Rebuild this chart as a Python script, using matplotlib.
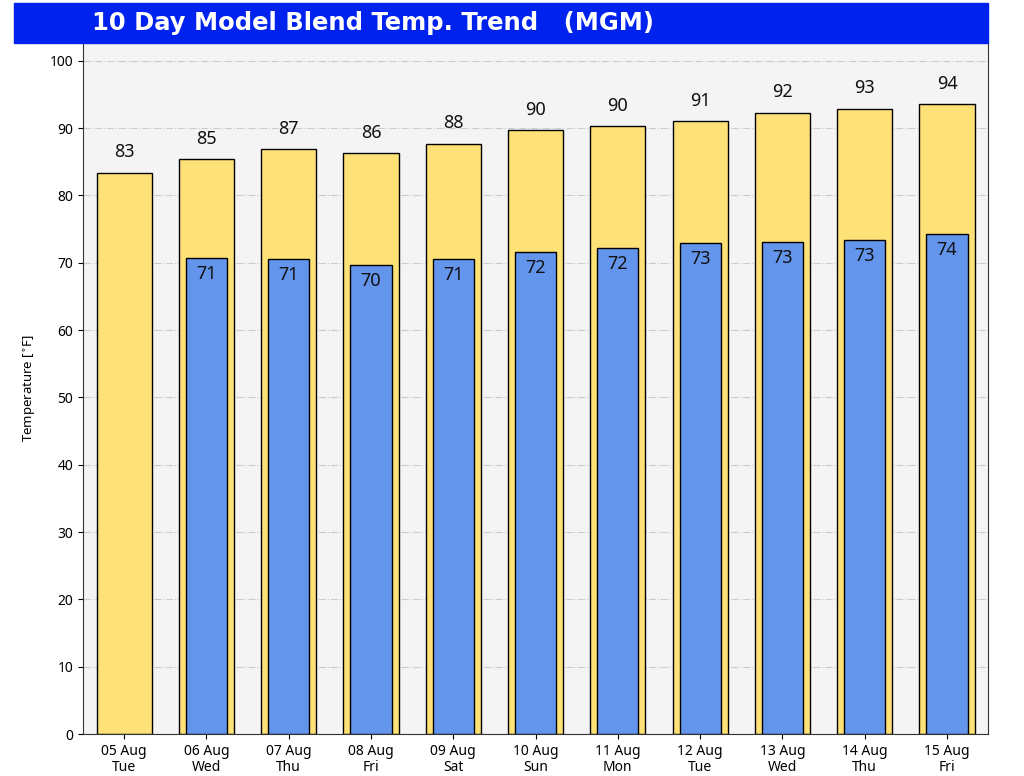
import matplotlib

matplotlib.use("Agg")
import matplotlib.pyplot as plt
from matplotlib.patches import Rectangle

DATES = ["05 Aug", "06 Aug", "07 Aug", "08 Aug", "09 Aug", "10 Aug",
         "11 Aug", "12 Aug", "13 Aug", "14 Aug", "15 Aug"]
DAYS = ["Tue", "Wed", "Thu", "Fri", "Sat", "Sun", "Mon", "Tue", "Wed", "Thu", "Fri"]
HIGHS = [83.4, 85.4, 86.9, 86.3, 87.7, 89.7, 90.3, 91.1, 92.3, 92.9, 93.6]
# first day has no overnight low
LOWS = [None, 70.7, 70.6, 69.7, 70.6, 71.6, 72.2, 73.0, 73.1, 73.4, 74.3]

COLOR_HIGH = "#ffe277"
COLOR_LOW = "#6495ed"
COLOR_BANNER = "#0022ee"
COLOR_FACE = "#f4f4f4"

plt.rcParams["font.family"] = ["Noto Sans", "DejaVu Sans"]

fig = plt.figure(figsize=(10.24, 7.76), dpi=100)
ax = fig.add_axes([0.081, 0.054, 0.884, 0.892])
ax.set_facecolor(COLOR_FACE)

x = list(range(len(DATES)))
bars_hi = ax.bar(x, HIGHS, width=0.67, color=COLOR_HIGH, edgecolor="black",
                 linewidth=1, zorder=2)
low_x = [i for i, v in zip(x, LOWS) if v is not None]
low_v = [v for v in LOWS if v is not None]
bars_lo = ax.bar(low_x, low_v, width=0.5, color=COLOR_LOW, edgecolor="black",
                 linewidth=1, zorder=3)

for b, v in zip(bars_hi, HIGHS):
    ax.annotate(f"{round(v)}", (b.get_x() + b.get_width() / 2, v),
                textcoords="offset points", xytext=(0, 8), ha="center",
                va="bottom", fontsize=13, color="#111111")
for b, v in zip(bars_lo, low_v):
    ax.annotate(f"{round(v)}", (b.get_x() + b.get_width() / 2, v),
                textcoords="offset points", xytext=(0, -5), ha="center",
                va="top", fontsize=13, color="#111111", zorder=4)

ax.set_xlim(-0.5, len(DATES) - 0.5)
ax.set_ylim(0, 102.8)
ax.set_yticks(range(0, 101, 10))
ax.set_xticks(x)
ax.set_xticklabels([f"{d}\n{w}" for d, w in zip(DATES, DAYS)], fontsize=10,
                   linespacing=1.1)
ax.tick_params(axis="y", labelsize=10)
ax.set_ylabel("Temperature [$^{\\circ}$F]", fontsize=9.5, labelpad=8)
ax.grid(True, axis="y", linestyle="-.", color="#cccccc", linewidth=0.8, zorder=0)
ax.set_axisbelow(True)
for spine in ax.spines.values():
    spine.set_color("#333333")

# title banner
fig.patches.append(Rectangle((0.0137, 0.9446), 0.9513, 0.0514,
                             transform=fig.transFigure, color=COLOR_BANNER,
                             zorder=5))
fig.text(0.09, 0.970, "10 Day Model Blend Temp. Trend   (MGM)",
         family="DejaVu Sans", fontweight="bold", fontsize=17.5,
         color="white", va="center", ha="left", zorder=6)

fig.savefig("out.png", facecolor="white")
